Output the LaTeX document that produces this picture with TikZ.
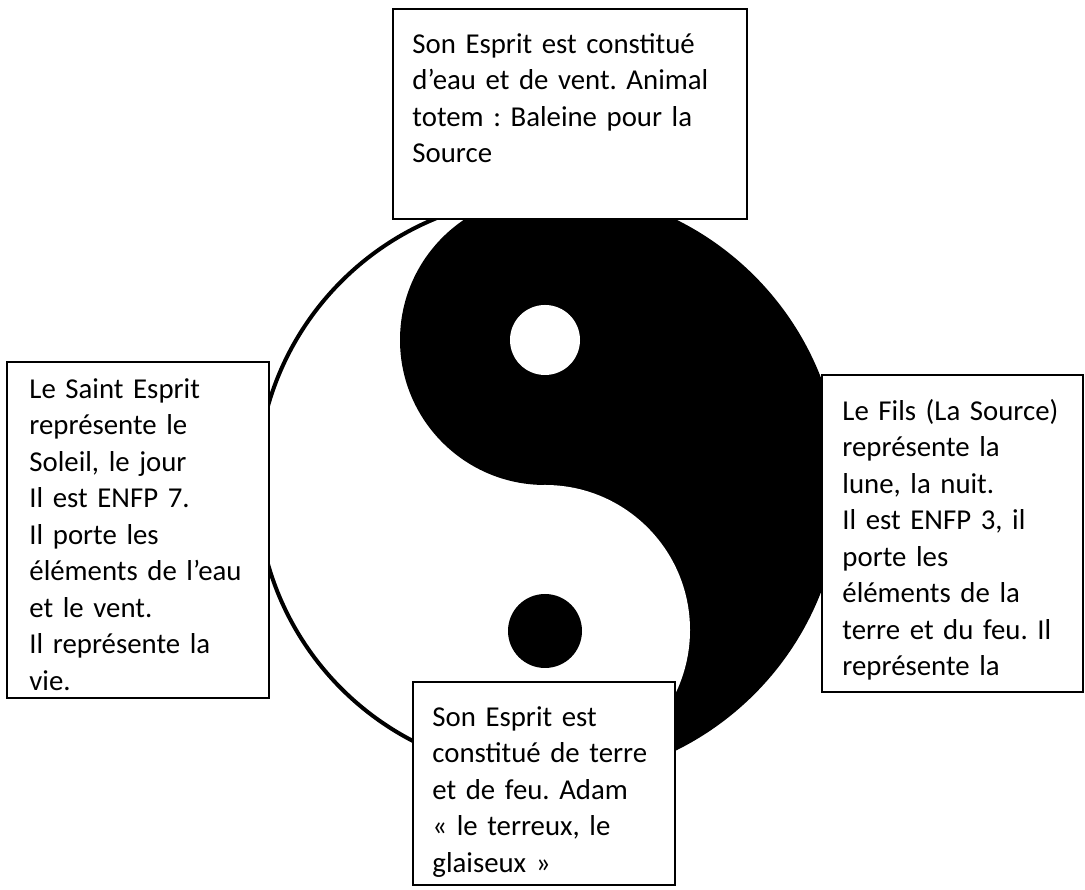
\documentclass[tikz,border=0pt]{standalone}
\usepackage{fontspec}
\setmainfont{Carlito}
\frenchspacing
\usetikzlibrary{positioning}

\begin{document}
\begin{tikzpicture}[x=1pt,y=1pt,
    every node/.style={font=\fontsize{28.8}{36.5}\selectfont},
    cadre/.style={rectangle,draw,fill=white,line width=1.5pt,inner sep=0pt},
    texte/.style={anchor=base west,inner sep=0pt,text width=340pt,align=left},
    contour/.style={line width=4pt}
]

% Page
\fill[white] (0,0) rectangle (1085,890);
\useasboundingbox (0,0) rectangle (1085,890);

% Yin-Yang
\coordinate (centre) at (545,405);
\fill[black] ([yshift=296]centre) arc (90:-90:296) -- cycle;
\fill[black] ([yshift=145]centre) circle (145);
\fill[white] ([yshift=-145]centre) circle (145);
\draw[contour] ([yshift=288]centre) arc (90:270:288);
\fill[white] ([yshift=145]centre) circle (35);
\fill[black] ([yshift=-146]centre) circle (37);

% Boxes
\node[cadre,minimum width=354pt,minimum height=210pt] (haut) at (570,776) {};
\node[cadre,minimum width=262pt,minimum height=336pt] (gauche) at (138,360) {};
\node[cadre,minimum width=261pt,minimum height=317pt] (droite) at (952.5,356.5) {};
\node[cadre,minimum width=262pt,minimum height=203pt] (bas) at (544,106.5) {};

% Texts
\node[texte] (thaut) at ([shift={(20,-45)}]haut.north west)
  {Son Esprit est constitué\\d’eau et de vent. Animal\\totem : Baleine pour la\\Source};
\node[texte] (tgauche) at ([shift={(23,-37)}]gauche.north west)
  {Le Saint Esprit\\représente le\\Soleil, le jour\\Il est ENFP 7.\\Il porte les\\éléments de l’eau\\et le vent.\\Il représente la\\vie.};
\node[texte] (tdroite) at ([shift={(21,-46)}]droite.north west)
  {Le Fils (La Source)\\représente la\\lune, la nuit.\\Il est ENFP 3, il\\porte les\\éléments de la\\terre et du feu. Il\\représente la};
\node[texte] (tbas) at ([shift={(20,-45)}]bas.north west)
  {Son Esprit est\\constitué de terre\\et de feu. Adam\\« le terreux, le\\glaiseux »};

\end{tikzpicture}
\end{document}
